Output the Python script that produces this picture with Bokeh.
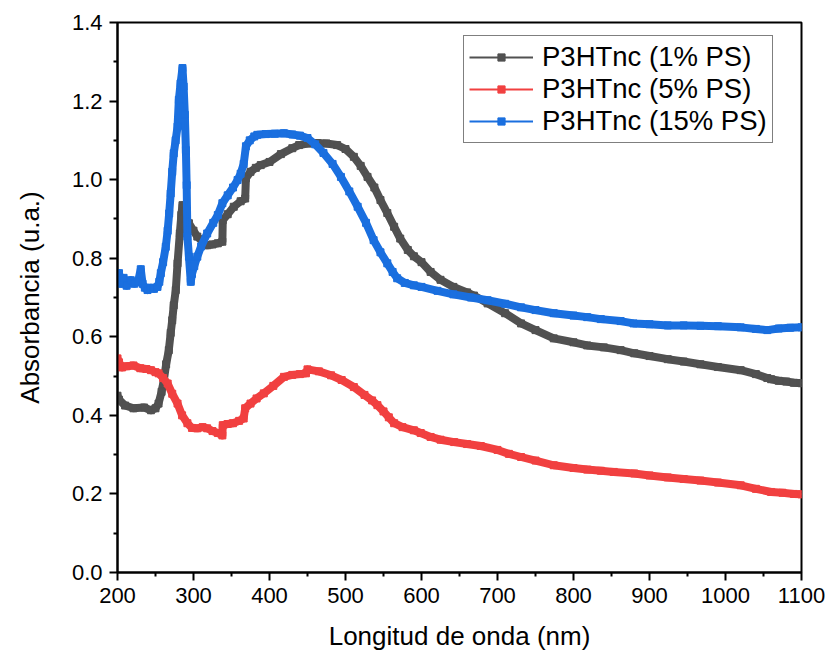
from bokeh.plotting import figure
from bokeh.models import Range1d, Legend, LegendItem, FixedTicker, CustomJSTickFormatter
from bokeh.embed import file_html
from bokeh.resources import INLINE

# ---- data ----
labels = ["P3HTnc (1% PS)", "P3HTnc (5% PS)", "P3HTnc (15% PS)"]
colors = ["#515151", "#F14040", "#1A6FDF"]

wl_1 = [200, 202, 210, 221, 235, 244, 250, 254, 258, 261, 264, 267.5, 270, 272, 274,
        276.7, 279, 282, 284, 285.5, 288, 291, 294, 300, 305, 312, 318, 325, 332, 338,
        338.5, 345, 353, 362, 368, 369, 375, 382, 388.5, 400, 415, 430, 439, 450, 463,
        475, 489, 500, 511, 520, 529, 538, 546, 555, 564, 572, 582, 590, 600, 612, 625,
        642, 660, 669, 687, 710, 731, 750, 774, 800, 818, 840, 862, 880, 900, 924, 945,
        967, 990, 1020, 1040, 1055, 1060, 1070, 1080, 1090, 1100]
abs_1 = [0.45, 0.44, 0.425, 0.418, 0.42, 0.413, 0.418, 0.43, 0.46, 0.49, 0.53, 0.566, 0.61, 0.642, 0.68,
         0.719, 0.787, 0.863, 0.91, 0.935, 0.92, 0.90, 0.889, 0.87, 0.855, 0.842, 0.833, 0.835, 0.838, 0.842,
         0.897, 0.912, 0.931, 0.945, 0.952, 1.004, 1.02, 1.03, 1.037, 1.045, 1.065, 1.08, 1.088, 1.092, 1.093,
         1.092, 1.088, 1.078, 1.058, 1.035, 1.007, 0.98, 0.948, 0.915, 0.88, 0.85, 0.821, 0.805, 0.79, 0.765, 0.745,
         0.727, 0.713, 0.705, 0.685, 0.66, 0.634, 0.617, 0.596, 0.586, 0.578, 0.573, 0.566, 0.558, 0.551, 0.543, 0.537,
         0.53, 0.523, 0.515, 0.505, 0.495, 0.492, 0.488, 0.486, 0.483, 0.482]

wl_5 = [200, 202, 206, 212, 221, 230, 238, 244, 250, 254, 260, 266, 272, 279, 285, 292, 298,
        305, 312, 318, 325, 332, 338, 338.5, 345, 352, 360, 366, 368, 375, 383, 392.5, 405,
        419, 430, 440, 448, 450, 465, 481, 495, 511, 525, 535, 542, 550, 557, 564, 575, 590,
        599, 612, 625, 643, 660, 678, 700, 715, 731, 750, 774, 800, 818, 836, 853, 880, 900,
        924, 945, 967, 990, 1020, 1040, 1060, 1075, 1090, 1100]
abs_5 = [0.545, 0.535, 0.522, 0.525, 0.527, 0.52, 0.518, 0.515, 0.51, 0.507, 0.495, 0.481, 0.455, 0.43, 0.40, 0.38, 0.368,
         0.367, 0.37, 0.367, 0.36, 0.355, 0.349, 0.375, 0.378, 0.38, 0.386, 0.392, 0.418, 0.43, 0.443, 0.456, 0.475,
         0.498, 0.503, 0.505, 0.507, 0.517, 0.512, 0.502, 0.49, 0.472, 0.452, 0.438, 0.426, 0.41, 0.395, 0.38, 0.37, 0.362,
         0.355, 0.345, 0.338, 0.332, 0.327, 0.322, 0.312, 0.302, 0.294, 0.285, 0.273, 0.266, 0.262, 0.259, 0.256, 0.252, 0.247,
         0.242, 0.238, 0.234, 0.229, 0.222, 0.213, 0.205, 0.203, 0.2, 0.199]

wl_15 = [200, 202, 205, 208, 212, 217.5, 222, 227, 230.6, 233, 236, 239.5, 244, 248, 252.6, 255,
         257, 260, 263.5, 266, 268, 270, 272, 274, 276.5, 279, 280.7, 283, 285.5, 287, 288.6, 290,
         291, 292, 294, 296.4, 298, 301, 305, 310, 318, 326, 332, 338, 345, 352, 358, 362, 366, 369,
         374, 380, 384, 395, 407, 419, 430, 440, 450, 460, 471, 483, 494, 505, 516, 527, 537, 546,
         555, 562, 568, 578, 590, 600, 621, 642, 665, 687, 710, 731, 750, 774, 800, 818, 836, 862,
         879, 900, 924, 945, 967, 990, 1020, 1040, 1055, 1070, 1085, 1100]
abs_15 = [0.755, 0.762, 0.735, 0.75, 0.73, 0.744, 0.735, 0.74, 0.772, 0.735, 0.725, 0.719, 0.725, 0.722, 0.727, 0.74,
          0.762, 0.79, 0.829, 0.87, 0.914, 0.965, 1.02, 1.067, 1.10, 1.135, 1.203, 1.245, 1.284, 1.237, 1.165, 1.075,
          0.986, 0.855, 0.804, 0.74, 0.76, 0.78, 0.804, 0.83, 0.863, 0.89, 0.91, 0.94, 0.96, 0.98, 0.999, 1.015, 1.04, 1.085,
          1.10, 1.11, 1.114, 1.116, 1.117, 1.118, 1.115, 1.112, 1.106, 1.09, 1.068, 1.04, 1.007, 0.97, 0.931, 0.89, 0.846, 0.815,
          0.787, 0.765, 0.749, 0.737, 0.731, 0.727, 0.717, 0.708, 0.70, 0.693, 0.684, 0.675, 0.668, 0.66, 0.654, 0.65, 0.645, 0.64,
          0.634, 0.632, 0.629, 0.629, 0.628, 0.627, 0.624, 0.62, 0.617, 0.621, 0.623, 0.624]

x_ticks = [200, 300, 400, 500, 600, 700, 800, 900, 1000, 1100]
y_ticks = [0.0, 0.2, 0.4, 0.6, 0.8, 1.0, 1.2, 1.4]

FONT = "Liberation Sans"

p = figure(width=826, height=656, output_backend="svg", toolbar_location=None,
           x_range=Range1d(200, 1100), y_range=Range1d(0, 1.4),
           min_border_left=117, min_border_right=25, min_border_top=22, min_border_bottom=84)
p.background_fill_color = "white"
p.border_fill_color = "white"
p.outline_line_color = "black"
p.outline_line_width = 2
p.grid.visible = False

p.xaxis.ticker = FixedTicker(ticks=x_ticks, minor_ticks=[250 + 100 * i for i in range(9)])
p.yaxis.ticker = FixedTicker(ticks=y_ticks, minor_ticks=[0.1 + 0.2 * i for i in range(7)])
p.yaxis.formatter = CustomJSTickFormatter(code="return tick.toFixed(1);")

for ax in (p.xaxis[0], p.yaxis[0]):
    ax.axis_line_width = 2
    ax.axis_line_color = "black"
    ax.major_tick_line_width = 2
    ax.minor_tick_line_width = 2
    ax.major_tick_out = 8
    ax.major_tick_in = 0
    ax.minor_tick_out = 4
    ax.minor_tick_in = 0
    ax.major_label_text_font = FONT
    ax.major_label_text_font_size = "22px"
    ax.major_label_text_color = "black"
    ax.axis_label_text_font = FONT
    ax.axis_label_text_font_size = "26px"
    ax.axis_label_text_font_style = "normal"
    ax.axis_label_text_color = "black"

p.xaxis.axis_label = "Longitud de onda (nm)"
p.yaxis.axis_label = "Absorbancia (u.a.)"
p.xaxis.major_label_standoff = 7
p.xaxis.axis_label_standoff = 15
p.yaxis.major_label_standoff = 7
p.yaxis.axis_label_standoff = 24

items = []
for lab, wl, ab, col in zip(labels, [wl_1, wl_5, wl_15], [abs_1, abs_5, abs_15], colors):
    p.line(wl, ab, line_color=col, line_width=8, line_join="round", line_cap="round")
    thin = p.line(wl, ab, line_color=col, line_width=2)
    sc = p.scatter(wl, ab, marker="square", size=7, fill_color=col, line_color=col)
    items.append(LegendItem(label=lab, renderers=[thin, sc]))

legend = Legend(items=items, location=(346, 429))
legend.border_line_color = "black"
legend.border_line_width = 1
legend.background_fill_color = "white"
legend.background_fill_alpha = 1
legend.margin = 0
legend.padding = 5
legend.spacing = 0
legend.label_height = 22
legend.glyph_height = 18
legend.glyph_width = 64
legend.label_standoff = 9
legend.label_text_font = FONT
legend.label_text_font_size = "27.5px"
legend.label_text_color = "black"
p.add_layout(legend)

open("out.html", "w").write(file_html(p, INLINE))
